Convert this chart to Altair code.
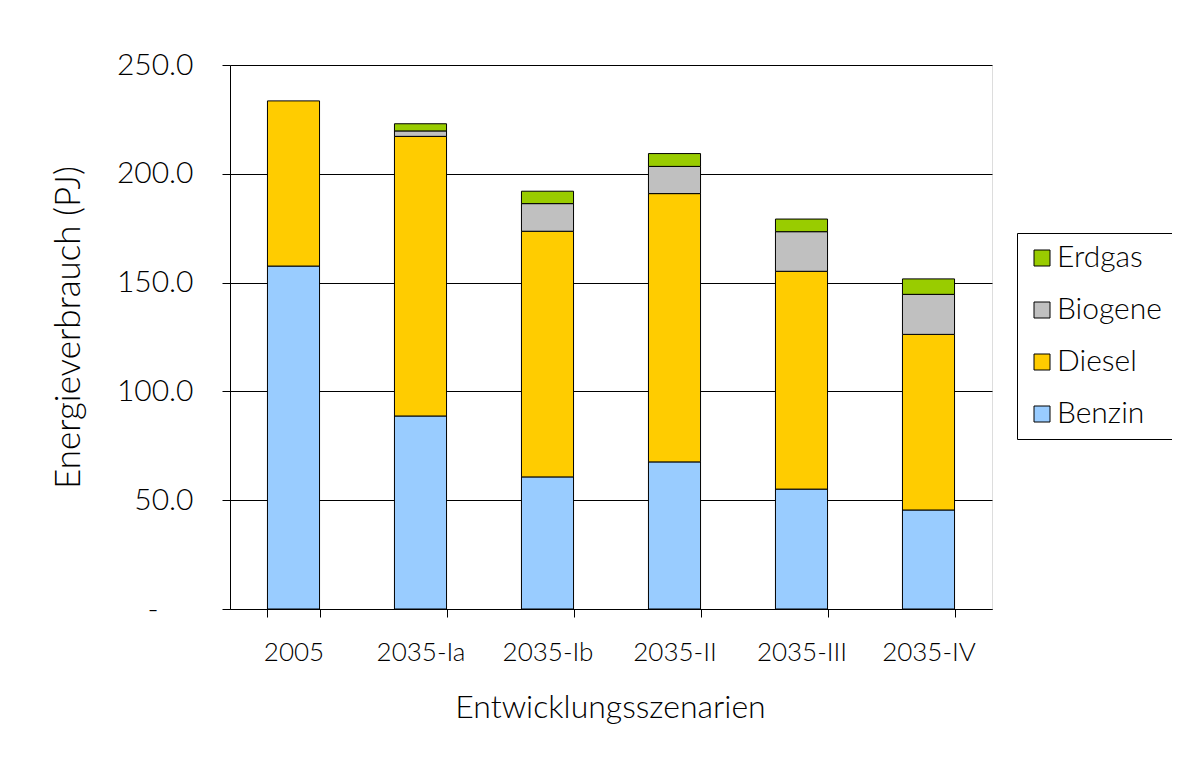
import altair as alt
import pandas as pd

categories = ["2005", "2035-Ia", "2035-Ib", "2035-II", "2035-III", "2035-IV"]
benzin = [157.6, 88.7, 60.7, 67.6, 55.1, 45.5]
diesel = [75.9, 128.5, 112.9, 123.3, 100.1, 80.7]
biogene = [0.0, 2.5, 12.7, 12.5, 18.2, 18.4]
erdgas = [0.0, 3.3, 5.7, 5.9, 5.8, 7.1]

series_names = ["Benzin", "Diesel", "Biogene", "Erdgas"]
series_values = [benzin, diesel, biogene, erdgas]
legend_order = ["Erdgas", "Biogene", "Diesel", "Benzin"]
colors = ["#99CC00", "#C0C0C0", "#FFCC00", "#99CCFF"]
y_ticks = [0, 50, 100, 150, 200, 250]

rows = []
for si, (name, vals) in enumerate(zip(series_names, series_values)):
    for cat, v in zip(categories, vals):
        if v > 0:
            rows.append({"Szenario": cat, "Energieträger": name, "Wert": v, "ord": si})
df = pd.DataFrame(rows)

FONT = "Lato"
W = 300
TXT = "#000000"

chart = (
    alt.Chart(df)
    .mark_bar(stroke="#000000", strokeWidth=1)
    .encode(
        x=alt.X(
            "Szenario:N",
            sort=categories,
            scale=alt.Scale(paddingInner=0.59, paddingOuter=0.295),
            axis=alt.Axis(
                title="Entwicklungsszenarien",
                labelAngle=0,
                labelFont=FONT,
                labelFontSize=26,
                labelFontWeight=W,
                labelColor=TXT,
                labelPadding=22,
                labelBaseline="top",
                tickBand="extent",
                tickSize=8,
                tickColor="#000000",
                domainColor="#000000",
                titleFont=FONT,
                titleFontSize=32,
                titleFontWeight=W,
                titleColor=TXT,
                titleX=380,
                titleY=108,
                titleAlign="center",
                titleBaseline="alphabetic",
                grid=False,
            ),
        ),
        y=alt.Y(
            "Wert:Q",
            stack="zero",
            scale=alt.Scale(domain=[0, 250], nice=False),
            axis=alt.Axis(
                title="Energieverbrauch (PJ)",
                values=y_ticks,
                labelExpr="datum.value == 0 ? '-' : format(datum.value, '.1f')",
                labelFont=FONT,
                labelFontSize=30,
                labelFontWeight=W,
                labelColor=TXT,
                labelPadding={"condition": {"test": "datum.value == 0", "value": 64}, "value": 29},
                tickSize=8,
                tickColor="#000000",
                domainColor="#000000",
                gridColor="#000000",
                gridWidth=1,
                titleFont=FONT,
                titleFontSize=35,
                titleFontWeight=W,
                titleColor=TXT,
                titleAngle=270,
                titleX=-151,
                titleY=262,
                titleAlign="center",
                titleBaseline="alphabetic",
            ),
        ),
        color=alt.Color(
            "Energieträger:N",
            scale=alt.Scale(domain=legend_order, range=colors),
            legend=alt.Legend(
                title=None,
                orient="none",
                legendX=787,
                legendY=168,
                symbolType="square",
                symbolSize=256,
                symbolStrokeColor="#000000",
                symbolStrokeWidth=1,
                labelFont=FONT,
                labelFontSize=30,
                labelFontWeight=W,
                labelColor=TXT,
                labelOffset=0,
                rowPadding=22,
                padding=10,
                strokeColor="#000000",
                fillColor="#FFFFFF",
            ),
        ),
        order=alt.Order("ord:Q", sort="ascending"),
    )
    .properties(
        width=762,
        height=544,
        autosize=alt.AutoSizeParams(type="none"),
        padding={"left": 222, "top": 57, "right": 180, "bottom": 149},
    )
    .configure_view(stroke="#808080", strokeWidth=1)
    .configure(background="#FFFFFF")
)

chart.save("out.html", embed_options={"renderer": "svg", "actions": False})
